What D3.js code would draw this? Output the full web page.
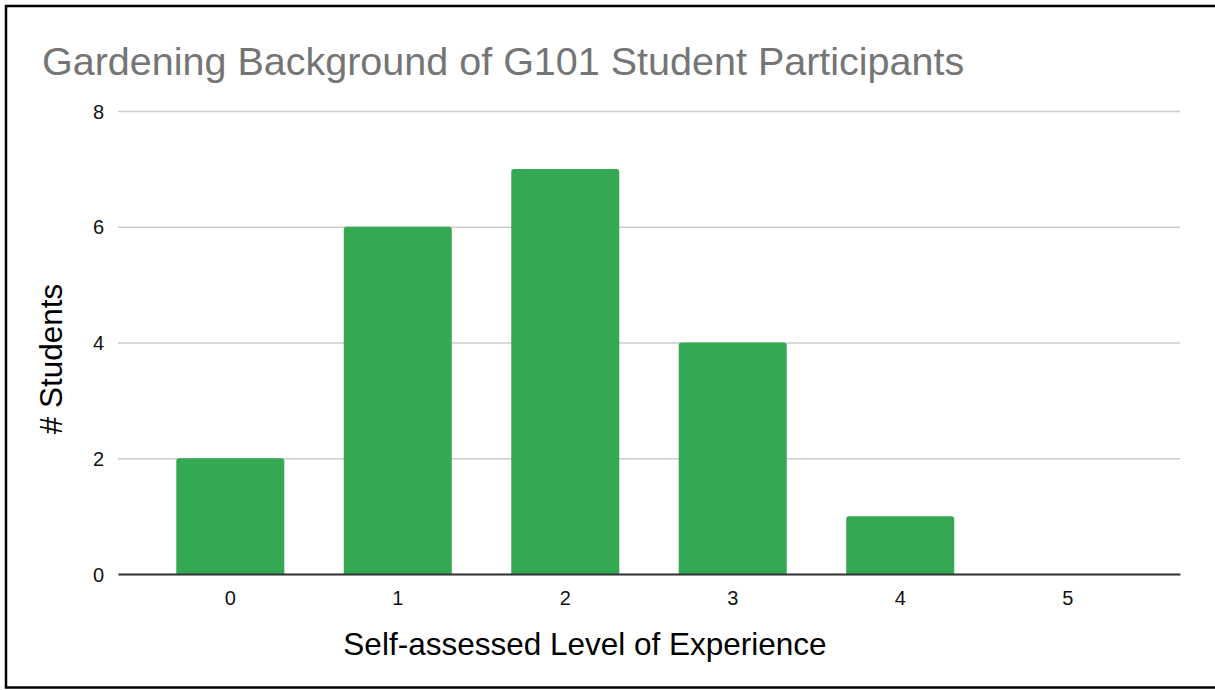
<!DOCTYPE html>
<head>
    <meta charset="utf-8">
    <style>
    body{
        margin: 0;
        background-color: white;
     }
     svg {
        background-color: white;
        font-family: Arial, 'Liberation Sans', sans-serif;
     }
     .title {
       fill: #757575;
       font-size: 39.5px;
     }
     .axisTitle {
       fill: #000;
       font-size: 31.5px;
     }
    </style>
</head>

<body>
  <script src="https://d3js.org/d3.v7.min.js"></script>

  <script type="text/javascript">

   // DATA
   const levels = ['0', '1', '2', '3', '4', '5'];
   const students = [2, 6, 7, 4, 1, 0];
   const yTicks = [0, 2, 4, 6, 8];

   // DIMENSIONS
   height = 690, width = 1215;
   margin = {top: 111, right: 35, bottom: 116, left: 118};

   svg = d3.select('body')
      .append('svg')
      .attr('width', width)
      .attr('height', height)

   // frame
   svg.append('rect')
      .attr('x', 6)
      .attr('y', 6)
      .attr('width', width + 20)
      .attr('height', 681.5)
      .attr('fill', 'none')
      .attr('stroke', '#000')
      .attr('stroke-width', 2.5)

   // SCALES
   xScale = d3.scaleBand(levels, [margin.left, width - margin.right])
      .paddingInner(0.355)
      .paddingOuter(0.348);

   yScale = d3.scaleLinear([0, 8], [height - margin.bottom, margin.top]);

   // GRIDLINES
   yAxis = d3.axisLeft(yScale)
      .tickValues(yTicks)
      .tickSize(-(width - margin.right - margin.left))
      .tickPadding(14)
      .tickFormat(d3.format('d'));

   yAxisG = svg.append('g')
      .attr('transform', `translate(${margin.left},0)`)
      .call(yAxis)
      .attr('font-size', 20)
      .attr('font-family', 'Arial, Liberation Sans, sans-serif');
   yAxisG.select('.domain').remove();
   yAxisG.selectAll('.tick line')
      .attr('stroke', '#cccccc')
      .attr('stroke-width', 1.5);
   yAxisG.selectAll('.tick text')
      .attr('dy', '0.36em')
      .attr('fill', '#111');

   // BARS (rounded top corners)
   r = 3;
   svg.append('g')
      .selectAll('path')
      .data(levels)
      .join('path')
      .attr('fill', '#34a853')
      .attr('d', (d, i) => {
          const x0 = xScale(d), w = xScale.bandwidth();
          const y0 = yScale(students[i]), y1 = yScale(0);
          if (students[i] <= 0) return '';
          return `M${x0},${y1} V${y0 + r} Q${x0},${y0} ${x0 + r},${y0} H${x0 + w - r} Q${x0 + w},${y0} ${x0 + w},${y0 + r} V${y1} Z`;
      });

   // X AXIS
   xAxis = d3.axisBottom(xScale).tickSize(0).tickPadding(17);
   xAxisG = svg.append('g')
      .attr('transform', `translate(0,${yScale(0)})`)
      .call(xAxis)
      .attr('font-size', 20)
      .attr('font-family', 'Arial, Liberation Sans, sans-serif');
   xAxisG.select('.domain')
      .attr('stroke', '#333')
      .attr('stroke-width', 2);
   xAxisG.selectAll('.tick text')
      .attr('dy', null)
      .attr('y', 31)
      .attr('fill', '#111');

   // TITLES
   svg.append('text')
      .attr('class', 'title')
      .attr('x', 42)
      .attr('y', 75)
      .text('Gardening Background of G101 Student Participants');

   svg.append('text')
      .attr('class', 'axisTitle')
      .attr('x', 585)
      .attr('y', 655)
      .attr('text-anchor', 'middle')
      .text('Self-assessed Level of Experience');

   svg.append('text')
      .attr('class', 'axisTitle')
      .attr('transform', `translate(62,359) rotate(-90)`)
      .attr('text-anchor', 'middle')
      .text('# Students');

  </script>
</body>
